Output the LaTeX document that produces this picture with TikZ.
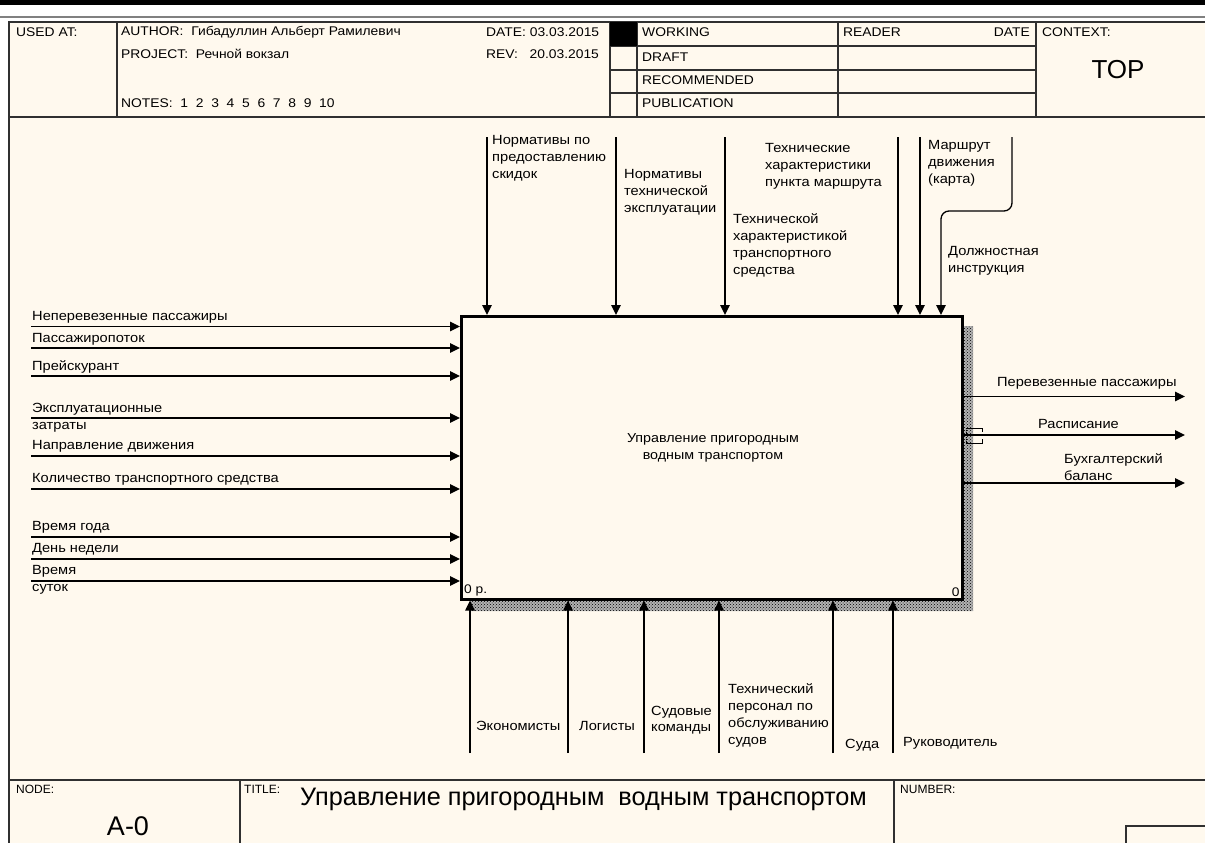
\documentclass[tikz,border=0pt]{standalone}
\usepackage{fontspec}
\setmainfont{Liberation Sans}
\newfontfamily\labf{Liberation Sans}[FakeStretch=1.1]
\usetikzlibrary{arrows.meta,patterns}
\definecolor{cream}{HTML}{FFF9EE}
\definecolor{framec}{HTML}{303030}
\begin{document}
\begin{tikzpicture}[x=1pt,y=-1pt,
  frame/.style={draw=framec,line width=1.3pt},
  arr/.style={draw=black,line width=1.3pt,-{Triangle[length=10pt,width=9.5pt]}},
  lab/.style={anchor=north west,inner sep=0pt,align=left,font=\labf\fontsize{13.3}{17}\selectfont},
  hdr/.style={anchor=west,inner sep=0pt,font=\labf\fontsize{12.6}{15}\selectfont},
  tiny/.style={anchor=west,inner sep=0pt,font=\fontsize{12}{13}\selectfont}]
\useasboundingbox (0,0) rectangle (1205,843);
\fill[white] (0,0) rectangle (1205,843);
\fill[black] (0,0) rectangle (1205,5);
\draw[gray,line width=1.2pt] (0,17) -- (1205,17);
\fill[cream] (9,22) rectangle (1206,844);
% frame
\draw[frame] (1207,22) -- (9,22) -- (9,845);
\draw[frame] (9,117) -- (1207,117);
\draw[frame] (9,780) -- (1207,780);
\foreach \xx in {117,610,637,838,1036} \draw[frame] (\xx,22) -- (\xx,117);
\foreach \yy in {46,70,93} \draw[frame] (610,\yy) -- (1036,\yy);
\fill[black] (610,22) rectangle (637,46);
\draw[frame] (240,780) -- (240,845);
\draw[frame] (894,780) -- (894,845);
\draw[frame] (1208,826) -- (1126,826) -- (1126,845);
% header text
\node[hdr] (usedat) at (16,32) {USED AT:};
\node[hdr] (author) at (121,32) {AUTHOR:\ \ Гибадуллин Альберт Рамилевич};
\node[hdr] (project) at (121,54) {PROJECT:\ \ Речной вокзал};
\node[hdr] (notes) at (121,103) {NOTES:\ \ 1\ \ 2\ \ 3\ \ 4\ \ 5\ \ 6\ \ 7\ \ 8\ \ 9\ \ 10};
\node[hdr] (date) at (486,32) {DATE:\ 03.03.2015};
\node[hdr] (rev) at (486,54) {REV:\ \ \ 20.03.2015};
\node[hdr] (working) at (642,32) {WORKING};
\node[hdr] (draft) at (642,57) {DRAFT};
\node[hdr] (recom) at (642,80) {RECOMMENDED};
\node[hdr] (publ) at (642,103) {PUBLICATION};
\node[hdr] (reader) at (843,32) {READER};
\node[hdr,anchor=east] (rdate) at (1030,32) {DATE};
\node[hdr] (context) at (1042,32) {CONTEXT:};
\node[inner sep=0pt,font=\fontsize{26}{28}\selectfont] (top) at (1118,70) {TOP};
% footer
\node[tiny] (nodelbl) at (16,789) {NODE:};
\node[inner sep=0pt,font=\fontsize{27}{29}\selectfont] (nodeid) at (128,826) {A-0};
\node[tiny] (titlelbl) at (244,789) {TITLE:};
\node[anchor=west,inner sep=0pt,font=\fontsize{25.3}{27}\selectfont] (title) at (300,799) {Управление пригородным\ \ водным транспортом};
\node[tiny] (numlbl) at (900,789) {NUMBER:};
% shadow
\fill[black!30] (961,326) -- (973,326) -- (973,611) -- (470,611) -- (470,599) -- (961,599) -- cycle;
\fill[pattern=crosshatch dots,pattern color=black] (961,326) -- (973,326) -- (973,611) -- (470,611) -- (470,599) -- (961,599) -- cycle;
% main box
\node[draw=black,line width=2.6pt,fill=cream,minimum width=501pt,minimum height=283pt,anchor=north west,inner sep=0pt] (box) at (460,315) {};
\node[inner sep=0pt,align=center,font=\labf\fontsize{13}{17}\selectfont] (boxtext) at (713,448) {Управление пригородным\\водным транспортом};
\node[anchor=south west,inner sep=0pt,font=\labf\fontsize{12.5}{14}\selectfont] (cost) at ([shift={(4,-4)}]box.south west) {0 р.};
\node[anchor=south east,inner sep=0pt,font=\labf\fontsize{12.5}{14}\selectfont] (num) at ([shift={(-4,-4)}]box.south east) {0};
% inputs
\foreach \n/\yy in {1/326.5,2/348,3/376,4/418,5/456,6/489,7/537,8/559,9/581}{
  \coordinate (i\n) at (31,\yy);
  \draw[arr] (i\n) -- (i\n -| box.west);
}
\node[lab] (li1) at (32,311) {Неперевезенные пассажиры};
\node[lab] (li2) at (32,333) {Пассажиропоток};
\node[lab] (li3) at (32,360) {Прейскурант};
\node[lab] (li4) at (32,403) {Эксплуатационные\\затраты};
\node[lab] (li5) at (32,440) {Направление движения};
\node[lab] (li6) at (32,473) {Количество транспортного средства};
\node[lab] (li7) at (32,521) {Время года};
\node[lab] (li8) at (32,543) {День недели};
\node[lab] (li9) at (32,565) {Время\\суток};
% controls
\foreach \n/\xx in {1/487,2/616,3/725,4/898,5/920}{
  \coordinate (c\n) at (\xx,137);
  \draw[arr] (c\n) -- (c\n |- box.north);
}
\coordinate (c6) at (1012,137);
\coordinate (c6a) at (1012,211);
\coordinate (c6b) at (941,211);
\draw[arr,rounded corners=8pt] (c6) -- (c6a) -- (c6b) -- (c6b |- box.north);
\node[lab] (lc1) at (492,135) {Нормативы по\\предоставлению\\скидок};
\node[lab] (lc2) at (624,169) {Нормативы\\технической\\эксплуатации};
\node[lab] (lc3) at (765,143) {Технические\\характеристики\\пункта маршрута};
\node[lab] (lc4) at (733,213) {Технической\\характеристикой\\транспортного\\средства};
\node[lab] (lc5) at (928,140) {Маршрут\\движения\\(карта)};
\node[lab] (lc6) at (948,246) {Должностная\\инструкция};
% outputs
\foreach \n/\yy in {1/396.5,2/435,3/483}{
  \coordinate (o\n) at (1185,\yy);
  \draw[arr] (o\n -| box.east) -- (o\n);
}
\draw[black,line width=0.8pt] (966,428) -- (982,428) -- (982,432);
\draw[black,line width=0.8pt] (982,439) -- (982,443) -- (966,443);
\draw[black,line width=0.8pt,densely dotted] (966,428) -- (966,443);
\node[lab] (lo1) at (997,377) {Перевезенные пассажиры};
\node[lab] (lo2) at (1038,419) {Расписание};
\node[lab] (lo3) at (1064,453) {Бухгалтерский\\баланс};
% mechanisms
\foreach \n/\xx in {1/470,2/568,3/644,4/719,5/833,6/893}{
  \coordinate (m\n) at (\xx,753);
  \draw[arr] (m\n) -- (m\n |- box.south);
}
\node[lab] (lm1) at (476,721) {Экономисты};
\node[lab] (lm2) at (579,721) {Логисты};
\node[lab,font=\labf\fontsize{13.3}{16}\selectfont] (lm3) at (651,706) {Судовые\\команды};
\node[lab] (lm4) at (728,683) {Технический\\персонал по\\обслуживанию\\судов};
\node[lab] (lm5) at (845,739) {Суда};
\node[lab] (lm6) at (903,737) {Руководитель};
\end{tikzpicture}
\end{document}
